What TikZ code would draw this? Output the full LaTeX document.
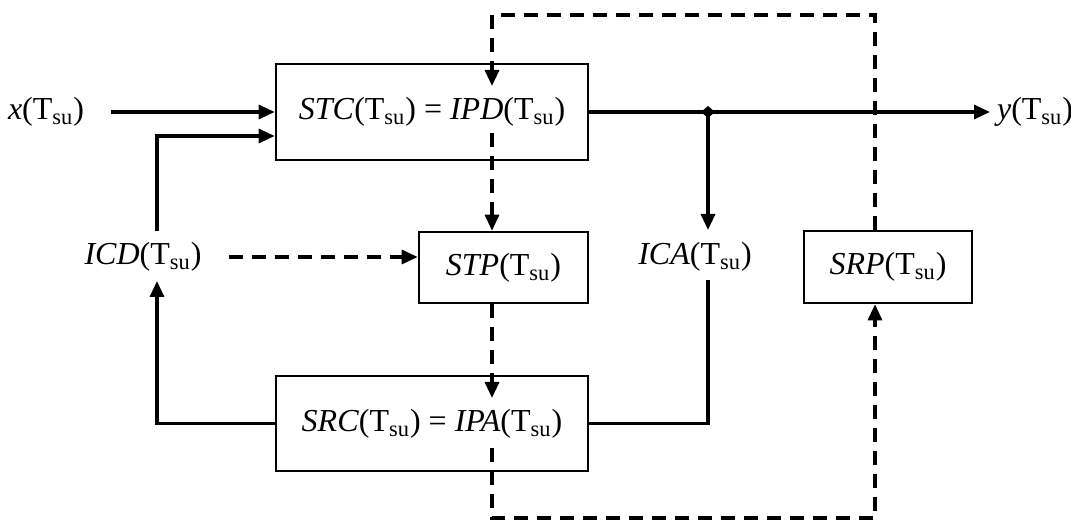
\documentclass[tikz,border=0pt]{standalone}
\usepackage{fontspec}
\setmainfont{Liberation Serif}
\usetikzlibrary{arrows.meta}
\usetikzlibrary{positioning}
\tikzset{blk/.style = {draw, line width = 1.3pt, inner sep = 0, font = \fontsize{16}{19}\selectfont}}
\tikzset{lbl/.style = {font = \fontsize{16}{19}\selectfont}}
\tikzset{line/.style = {line width = 1.6pt}}
\tikzset{arr/.style = {line, -{Triangle[length=8pt, width=7pt]}}}
\tikzset{darr/.style = {arr, dash pattern = on 7pt off 4.5pt}}
\newcommand{\Tsu}{(T\textsubscript{su})}

\begin{document}
\begin{tikzpicture}[x=0.5pt, y=-0.5pt]
      \useasboundingbox (0, 0) rectangle (1071, 523);
      % blocks
      \node [blk, minimum width=156pt, minimum height=48pt] (stc) at (432, 112) {\textit{STC}\Tsu{} = \textit{IPD}\Tsu};
      \node [blk, minimum width=84.5pt, minimum height=35.5pt] (stp) at (503.5, 267.5) {\textit{STP}\Tsu};
      \node [blk, minimum width=156pt, minimum height=47.5pt] (src) at (432, 423.5) {\textit{SRC}\Tsu{} = \textit{IPA}\Tsu};
      \node [blk, minimum width=84pt, minimum height=36pt] (srp) at (888, 267) {\textit{SRP}\Tsu};
      % labels
      \node [lbl] (xlbl) at (46, 112) {\textit{x}\Tsu};
      \node [lbl, anchor=west] (ylbl) at (990, 112) {\textit{y}\Tsu};
      \node [lbl] (icd) at (143, 257) {\textit{ICD}\Tsu};
      \node [lbl] (ica) at (695, 257) {\textit{ICA}\Tsu};
      % free ends
      \coordinate (jn) at (708, 112);
      \coordinate (icdtop) at (157, 231);
      \coordinate (icdbot) at (157, 281);
      \coordinate (icatop) at (708, 230);
      \coordinate (icabot) at (708, 280);
      \coordinate (stcin) at (492, 86);
      \coordinate (stcout) at (492, 133);
      \coordinate (srcin) at (492, 398);
      \coordinate (srcout) at (492, 448);
      \coordinate (dtl) at (492, 15);
      \coordinate (dtr) at (875, 15);
      \coordinate (dbl) at (492, 518);
      \coordinate (dbr) at (875, 518);
      % solid connectors
      \draw [arr, shorten <=10pt] (xlbl.east) -- (xlbl.east -| stc.west);
      \draw [arr] (icdtop) |- ([yshift=-12pt]stc.west);
      \draw [arr] (stc.east) -- (ylbl.west);
      \fill (jn) +(-7, 0) -- +(0, -6) -- +(7, 0) -- +(0, 6) -- cycle;
      \draw [arr] (jn) -- (icatop);
      \draw [line] (icabot) |- (src.east);
      \draw [arr] (src.west) -| (icdbot);
      % dashed connectors
      \draw [darr, shorten <=10pt] (icd.east) -- (icd.east -| stp.west);
      \draw [darr] (dtr |- srp.north) -- (dtr) -- (dtl) -- (stcin);
      \draw [darr] (stcout) -- (stcout |- stp.north);
      \draw [darr] (stcout |- stp.south) -- (srcin);
      \draw [darr] (srcout) -- (dbl) -- (dbr) -- (dbr |- srp.south);
    \end{tikzpicture}
\end{document}
